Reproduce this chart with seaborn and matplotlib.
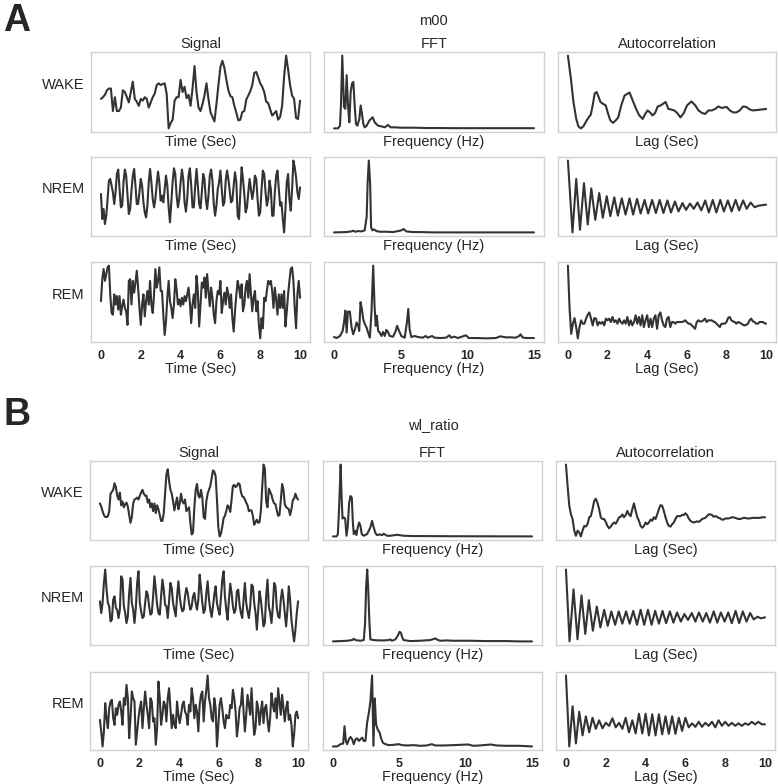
import numpy as np
import matplotlib
matplotlib.use("Agg")
import matplotlib.pyplot as plt
import seaborn as sns

# ---------------- data ----------------
# raw signals, 10 s windows (arbitrary units)
sig_a_wake = [100, 105, 112, 125, 130, 130, 65, 105, 65, 65,
              75, 125, 120, 105, 90, 120, 150, 100, 92, 80,
              100, 95, 105, 100, 75, 90, 105, 115, 140, 145,
              140, 143, 145, 115, 15, 30, 40, 95, 105, 105,
              155, 120, 135, 102, 112, 80, 130, 195, 120, 75,
              65, 85, 110, 145, 100, 62, 48, 35, 85, 140,
              192, 210, 190, 155, 125, 108, 105, 80, 60, 38,
              40, 62, 65, 98, 110, 122, 140, 175, 178, 162,
              145, 135, 120, 92, 88, 70, 52, 58, 65, 40,
              48, 80, 165, 225, 185, 140, 110, 100, 45, 42,
              95]
sig_a_nrem = [125, 50, 80, 35, 60, 110, 165, 170, 150, 130,
              95, 130, 185, 198, 140, 85, 90, 160, 198, 180,
              120, 65, 80, 135, 180, 200, 150, 95, 95, 130,
              170, 150, 100, 70, 55, 90, 160, 200, 160, 110,
              85, 110, 155, 192, 160, 105, 120, 100, 140, 180,
              150, 85, 40, 100, 160, 202, 185, 120, 85, 110,
              160, 198, 170, 100, 72, 110, 180, 202, 150, 85,
              85, 150, 200, 150, 95, 82, 130, 185, 170, 110,
              80, 120, 180, 198, 165, 95, 60, 90, 140, 160,
              195, 140, 90, 100, 165, 195, 170, 135, 100, 105,
              150, 190, 160, 60, 50, 125, 205, 170, 125, 70,
              85, 130, 170, 140, 110, 135, 180, 170, 110, 60,
              70, 140, 195, 185, 130, 90, 110, 165, 140, 60,
              60, 130, 180, 195, 140, 90, 100, 50, 10, 80,
              160, 185, 110, 75, 140, 225, 205, 175, 130, 110,
              145]
sig_a_rem = [120, 185, 215, 180, 200, 220, 225, 140, 85, 80,
             140, 110, 135, 95, 135, 80, 105, 125, 100, 90,
             50, 180, 185, 110, 180, 145, 175, 210, 160, 100,
             50, 110, 140, 75, 120, 150, 110, 180, 110, 85,
             140, 215, 160, 180, 220, 150, 150, 80, 20, 60,
             130, 180, 120, 100, 70, 110, 185, 155, 110, 125,
             105, 130, 110, 135, 120, 140, 160, 115, 55, 110,
             140, 100, 195, 150, 45, 110, 175, 160, 190, 130,
             200, 150, 105, 160, 130, 80, 55, 120, 150, 140,
             180, 85, 120, 145, 110, 160, 140, 100, 140, 70,
             30, 90, 140, 180, 160, 130, 170, 90, 110, 160,
             180, 130, 200, 140, 90, 130, 150, 90, 120, 50,
             10, 70, 40, 130, 120, 150, 180, 170, 180, 150,
             100, 160, 125, 80, 140, 100, 140, 100, 150, 45,
             90, 140, 180, 215, 220, 180, 100, 40, 140, 180,
             130]
sig_b_wake = [100, 92, 80, 70, 65, 65, 67, 80, 125, 130,
              135, 152, 142, 120, 110, 128, 95, 105, 90, 98,
              102, 92, 70, 50, 65, 100, 110, 112, 115, 110,
              120, 128, 135, 125, 120, 120, 102, 110, 90, 100,
              80, 100, 75, 95, 85, 70, 55, 55, 75, 125,
              175, 188, 158, 135, 125, 105, 82, 100, 115, 85,
              100, 125, 105, 100, 110, 80, 85, 90, 50, 20,
              25, 90, 135, 150, 120, 115, 135, 115, 65, 60,
              105, 125, 135, 145, 165, 185, 182, 170, 110, 40,
              15, 22, 40, 62, 68, 80, 95, 90, 78, 110,
              145, 148, 142, 145, 152, 150, 130, 118, 117, 110,
              102, 95, 80, 82, 82, 68, 45, 52, 58, 50,
              52, 80, 140, 200, 190, 105, 90, 138, 130, 122,
              108, 100, 98, 82, 68, 70, 108, 150, 135, 98,
              90, 88, 85, 70, 85, 108, 112, 125, 115, 110]
sig_b_nrem = [125, 90, 120, 180, 220, 160, 120, 110, 65, 70,
              130, 140, 105, 100, 75, 100, 200, 190, 110, 90,
              60, 80, 150, 195, 120, 100, 60, 105, 180, 215,
              120, 95, 75, 80, 120, 155, 145, 110, 85, 90,
              140, 200, 160, 115, 90, 85, 140, 190, 160, 115,
              110, 75, 125, 180, 165, 120, 100, 80, 140, 185,
              140, 110, 95, 100, 140, 165, 150, 120, 100, 110,
              140, 150, 120, 100, 130, 205, 165, 120, 90, 100,
              150, 185, 130, 100, 78, 110, 145, 170, 120, 100,
              85, 135, 190, 215, 140, 100, 70, 130, 178, 150,
              110, 90, 100, 155, 160, 115, 90, 75, 130, 180,
              120, 95, 75, 110, 175, 170, 120, 90, 40, 100,
              155, 130, 90, 50, 60, 140, 190, 110, 90, 60,
              110, 180, 170, 105, 80, 75, 130, 160, 130, 90,
              50, 100, 170, 130, 70, 35, 5, 40, 90, 125]
sig_b_rem = [85, 50, 5, 50, 135, 90, 60, 120, 140, 145,
             90, 70, 120, 100, 130, 140, 110, 70, 150, 130,
             190, 150, 30, 90, 170, 150, 140, 10, 50, 90,
             120, 140, 60, 120, 170, 130, 100, 60, 150, 140,
             80, 90, 10, 60, 200, 150, 70, 100, 140, 130,
             80, 150, 180, 120, 60, 100, 70, 60, 140, 100,
             75, 100, 130, 140, 110, 100, 70, 130, 110, 180,
             150, 90, 130, 110, 50, 130, 160, 170, 80, 140,
             175, 218, 150, 130, 90, 80, 150, 120, 5, 70,
             130, 150, 120, 80, 60, 100, 90, 90, 130, 120,
             175, 150, 110, 35, 70, 120, 130, 180, 110, 50,
             100, 160, 130, 100, 180, 100, 40, 60, 140, 120,
             70, 110, 140, 75, 120, 130, 85, 50, 90, 165,
             130, 110, 150, 90, 180, 140, 100, 160, 120, 80,
             120, 140, 85, 100, 70, 5, 40, 100, 110, 90]

# FFT magnitude spectra
fft_a_wake_f = [0.0, 0.3, 0.45, 0.52, 0.62, 0.75, 0.85, 0.95, 1.05, 1.15, 1.25, 1.35, 1.45, 1.55,
                1.65, 1.75, 1.9, 2.0, 2.1, 2.2, 2.3, 2.45, 2.65, 2.9, 3.05, 3.3, 3.55, 3.8, 4.05,
                4.25, 4.6, 5.0, 6.0, 7.0, 8.0, 9.0, 10.0, 11.0, 12.0, 13.0, 14.0, 15.0]
fft_a_wake_p = [0, 0, 8, 68, 216, 63, 58, 158, 68, 18, 108, 133, 138, 68,
                13, 8, 28, 68, 43, 13, 3, 8, 23, 33, 18, 8, 6, 3, 10,
                3, 3, 2, 2, 1, 1, 0.5, 0.5, 0.5, 0.5, 0.5, 0.5, 0.5]
fft_a_nrem_f = [0.0, 0.9, 1.3, 1.45, 1.6, 1.8, 2.05, 2.3, 2.45, 2.52, 2.61, 2.71, 2.78, 2.88,
                3.0, 3.18, 3.43, 3.93, 4.43, 5.05, 5.22, 5.42, 5.92, 6.42, 7.5, 10.0, 12.5, 15.0]
fft_a_nrem_p = [1, 2, 4, 6, 3, 5, 4, 7, 47, 147, 215, 147, 17, 7,
                10, 5, 3, 3, 2, 7, 11, 4, 2, 2, 1, 1, 1, 1]
fft_a_rem_f = [0.0, 0.2, 0.45, 0.65, 0.75, 0.85, 0.95, 1.04, 1.19, 1.32,
               1.44, 1.57, 1.69, 1.82, 1.89, 1.99, 2.09, 2.19, 2.31, 2.44,
               2.56, 2.69, 2.81, 2.94, 3.04, 3.13, 3.21, 3.31, 3.43, 3.56,
               3.68, 3.81, 3.93, 4.05, 4.18, 4.43, 4.63, 4.73, 4.88, 5.05,
               5.3, 5.47, 5.57, 5.67, 5.8, 6.04, 6.29, 6.67, 6.87, 7.04,
               7.36, 7.54, 8.03, 8.4, 8.66, 8.78, 9.03, 9.28, 9.9, 10.1,
               10.65, 11.4, 12.15, 12.46, 12.89, 13.26, 13.63, 13.88, 14.0, 14.13,
               14.38, 15.0]
fft_a_rem_p = [5, 2, 8, 23, 48, 83, 18, 80, 80, 33,
               13, 28, 48, 38, 23, 108, 88, 58, 43, 33,
               18, 3, 78, 216, 98, 38, 68, 23, 18, 8,
               20, 8, 26, 20, 8, 6, 23, 38, 23, 8,
               3, 48, 88, 28, 5, 8, 5, 3, 8, 3,
               8, 3, 2, 3, 10, 3, 6, 2, 10, 2,
               2, 1, 2, 7, 4, 4, 3, 8, 13, 4,
               2, 2]
fft_b_wake_f = [0.0, 0.27, 0.37, 0.47, 0.58, 0.65, 0.72, 0.82, 0.92, 1.02,
                1.12, 1.22, 1.32, 1.42, 1.5, 1.57, 1.67, 1.77, 1.87, 1.97,
                2.07, 2.17, 2.32, 2.57, 2.82, 2.95, 3.07, 3.2, 3.32, 3.52,
                3.7, 3.82, 4.07, 4.32, 4.7, 4.82, 5.32, 6.07, 6.57, 9.07, 15.0]
fft_b_wake_p = [0, 0, 7, 92, 217, 122, 54, 57, 54, 2,
                32, 102, 122, 117, 42, 7, 17, 4, 27, 42,
                32, 7, 2, 7, 27, 47, 27, 10, 4, 6,
                4, 8, 2, 2, 4, 5, 2, 1, 1, 0.5, 0]
fft_b_nrem_f = [0.0, 0.57, 1.07, 1.45, 1.57, 1.7, 2.07, 2.32, 2.42, 2.5,
                2.58, 2.65, 2.75, 2.82, 3.07, 3.45, 3.82, 4.2, 4.32, 4.45,
                4.7, 4.87, 5.02, 5.12, 5.22, 5.32, 5.82, 6.57, 7.32, 7.57,
                7.72, 7.82, 8.07, 8.57, 9.07, 10.32, 11.57, 13.07, 14.07, 15.0]
fft_b_nrem_p = [1, 2, 3, 5, 9, 5, 3, 5, 55, 165,
                217, 165, 55, 7, 5, 4, 4, 5, 7, 3,
                7, 17, 30, 27, 13, 5, 2, 3, 5, 8,
                10, 7, 3, 4, 3, 3, 2, 2, 1, 1]
fft_b_rem_f = [0.0, 0.32, 0.57, 0.77, 0.87, 0.97, 1.07, 1.2, 1.32, 1.45,
               1.57, 1.7, 1.82, 1.95, 2.07, 2.2, 2.32, 2.45, 2.57, 2.7,
               2.82, 2.95, 3.05, 3.15, 3.25, 3.37, 3.52, 3.65, 3.77, 3.95,
               4.2, 4.57, 4.95, 5.2, 5.57, 6.07, 6.57, 7.07, 7.45, 7.7,
               8.32, 9.07, 10.2, 10.57, 11.07, 11.9, 12.32, 13.07, 14.07, 15.0]
fft_b_rem_p = [1, 1, 8, 10, 63, 18, 8, 23, 30, 23,
               8, 23, 26, 18, 23, 28, 18, 18, 73, 103,
               138, 218, 3, 148, 68, 53, 43, 23, 12, 8,
               5, 6, 8, 5, 4, 5, 3, 4, 8, 4,
               4, 5, 7, 3, 4, 7, 4, 3, 3, 1]

# autocorrelation
acf_a_wake_lag = [0.0, 0.15, 0.28, 0.42, 0.53, 0.65, 0.78, 0.95, 1.08, 1.15,
                  1.25, 1.35, 1.45, 1.55, 1.64, 1.78, 1.91, 2.03, 2.14, 2.28,
                  2.41, 2.54, 2.69, 2.86, 3.11, 3.27, 3.44, 3.6, 3.77, 3.9,
                  4.02, 4.14, 4.27, 4.4, 4.53, 4.68, 4.93, 5.07, 5.2, 5.37,
                  5.51, 5.68, 5.85, 6.01, 6.23, 6.43, 6.59, 6.76, 6.93, 7.09,
                  7.26, 7.43, 7.59, 7.76, 8.01, 8.17, 8.34, 8.5, 8.67, 8.84,
                  9.0, 9.17, 9.34, 9.58, 10.0]
acf_a_wake = [1.0, 0.54, 0.07, -0.27, -0.42, -0.46, -0.42, -0.30, -0.22, -0.19,
              0.0, 0.24, 0.27, 0.17, 0.07, 0.03, 0.0, -0.17, -0.30, -0.35,
              -0.30, -0.24, 0.0, 0.20, 0.26, 0.10, -0.07, -0.20, -0.27, -0.17,
              -0.10, -0.14, -0.20, -0.15, -0.02, 0.0, 0.07, -0.07, -0.08, -0.10,
              -0.15, -0.24, -0.15, 0.0, 0.08, 0.0, -0.10, -0.15, -0.17, -0.10,
              -0.10, -0.07, -0.02, -0.05, -0.03, -0.10, -0.14, -0.14, -0.10, -0.02,
              -0.03, -0.08, -0.10, -0.09, -0.07]
acf_a_nrem_lag = [0.0, 0.23, 0.42, 0.61, 0.81, 1.0, 1.18, 1.38, 1.58, 1.76,
                  1.96, 2.14, 2.34, 2.52, 2.72, 2.91, 3.11, 3.29, 3.49, 3.67,
                  3.87, 4.05, 4.25, 4.44, 4.63, 4.82, 5.02, 5.2, 5.4, 5.58,
                  5.78, 5.96, 6.16, 6.35, 6.54, 6.73, 6.93, 7.11, 7.31, 7.49,
                  7.69, 7.87, 8.07, 8.26, 8.46, 8.64, 8.84, 9.02, 9.22, 9.42,
                  9.62, 10.0]
acf_a_nrem = [1.0, -0.37, 0.65, -0.32, 0.57, -0.22, 0.47, -0.13, 0.38, -0.09,
              0.32, -0.06, 0.30, -0.05, 0.28, -0.03, 0.28, -0.03, 0.27, -0.01,
              0.25, -0.01, 0.25, 0.0, 0.25, 0.0, 0.24, 0.01, 0.22, 0.03,
              0.19, 0.06, 0.18, 0.08, 0.20, 0.05, 0.24, 0.01, 0.25, 0.01,
              0.25, 0.03, 0.24, 0.03, 0.25, 0.05, 0.24, 0.08, 0.20, 0.11,
              0.14, 0.16]
acf_a_rem = [1.0, 0.24, -0.21, -0.03, 0.07, -0.09, -0.29, -0.09, 0.03, -0.03,
             -0.03, 0.06, 0.13, 0.17, 0.06, -0.06, 0.07, 0.06, -0.06, 0.0,
             -0.03, 0.0, -0.06, 0.06, 0.03, 0.06, 0.0, 0.09, 0.0, 0.03,
             -0.03, 0.06, 0.0, -0.03, 0.03, -0.03, 0.09, -0.06, 0.03, -0.06,
             0.0, 0.12, -0.03, 0.09, -0.06, 0.12, -0.09, 0.03, 0.12, -0.09,
             0.06, -0.09, 0.06, 0.12, -0.12, 0.12, 0.17, 0.03, -0.06, -0.09,
             0.06, 0.09, -0.09, 0.0, 0.0, -0.03, 0.0, 0.0, 0.0, 0.0,
             0.01, 0.03, 0.0, -0.03, -0.03, -0.06, -0.09, -0.12, 0.0, 0.03,
             0.01, 0.01, 0.03, 0.06, 0.0, 0.03, 0.03, 0.03, 0.01, 0.0,
             -0.03, -0.06, -0.09, -0.03, -0.03, -0.03, 0.0, 0.07, 0.09, 0.03,
             0.01, 0.0, -0.03, 0.0, -0.01, -0.03, -0.05, -0.06, -0.05, -0.03,
             0.03, 0.06, 0.01, 0.0, -0.03, -0.03, 0.0, 0.0, 0.0, -0.02,
             -0.03]
acf_b_wake = [1.0, 0.63, 0.29, 0.14, 0.06, -0.14, -0.23, -0.14, -0.17, -0.24,
              -0.14, -0.06, -0.07, -0.03, 0.09, 0.11, 0.23, 0.37, 0.41, 0.34,
              0.23, 0.09, 0.06, 0.06, 0.01, -0.06, -0.10, -0.07, -0.03, 0.0,
              -0.02, 0.03, 0.09, 0.10, 0.14, 0.09, 0.13, 0.20, 0.14, 0.11,
              0.23, 0.33, 0.20, 0.09, 0.03, -0.06, -0.09, -0.06, 0.0, -0.03,
              0.0, 0.05, 0.03, 0.09, 0.06, 0.14, 0.23, 0.30, 0.29, 0.20,
              0.09, 0.0, -0.06, -0.07, -0.03, 0.0, 0.06, 0.11, 0.11, 0.11,
              0.13, 0.13, 0.16, 0.13, 0.07, 0.03, 0.01, 0.0, 0.01, 0.02,
              0.01, 0.03, 0.06, 0.07, 0.08, 0.11, 0.14, 0.14, 0.13, 0.10,
              0.11, 0.10, 0.08, 0.07, 0.05, 0.05, 0.07, 0.07, 0.07, 0.08,
              0.09, 0.09, 0.08, 0.07, 0.06, 0.06, 0.07, 0.08, 0.08, 0.07,
              0.07, 0.07, 0.08, 0.08, 0.08, 0.08, 0.08, 0.08, 0.09, 0.09,
              0.09]
acf_b_nrem_lag = [0.0, 0.18, 0.38, 0.58, 0.78, 0.97, 1.15, 1.35, 1.55, 1.73,
                  1.92, 2.1, 2.28, 2.47, 2.65, 2.83, 3.02, 3.2, 3.38, 3.57,
                  3.75, 3.93, 4.12, 4.3, 4.48, 4.67, 4.85, 5.03, 5.22, 5.4,
                  5.58, 5.77, 5.95, 6.13, 6.32, 6.5, 6.68, 6.87, 7.05, 7.23,
                  7.42, 7.6, 7.78, 7.97, 8.15, 8.33, 8.52, 8.7, 8.88, 9.07,
                  9.25, 9.43, 9.62, 9.8, 10.0]
acf_b_nrem = [1.0, -0.34, 0.63, -0.30, 0.52, -0.20, 0.43, -0.14, 0.31, -0.08,
              0.25, -0.05, 0.22, -0.03, 0.22, -0.01, 0.22, -0.01, 0.23, -0.03,
              0.25, -0.03, 0.25, -0.03, 0.23, -0.01, 0.23, 0.0, 0.22, 0.01,
              0.20, 0.03, 0.17, 0.06, 0.19, 0.03, 0.20, 0.03, 0.19, 0.01,
              0.22, 0.01, 0.20, 0.03, 0.20, 0.0, 0.23, 0.0, 0.22, 0.03,
              0.19, 0.07, 0.12, 0.09, 0.11]
acf_b_rem = [1.0, -0.41, 0.39, -0.35, 0.28, -0.19, 0.19, -0.13, 0.16, -0.06,
             0.11, -0.05, 0.06, 0.0, 0.15, -0.03, 0.06, -0.06, 0.16, -0.13,
             0.11, -0.15, 0.24, -0.15, 0.24, -0.19, 0.23, -0.19, 0.23, -0.17,
             0.19, -0.16, 0.19, -0.16, 0.16, -0.10, 0.16, -0.03, 0.05, -0.02,
             0.08, -0.02, 0.06, 0.0, 0.08, -0.03, 0.11, 0.0, 0.08, 0.0,
             0.06, 0.0, 0.05, 0.0, 0.05, 0.02, 0.08, 0.03, 0.08, 0.03,
             0.03]

stages = ["WAKE", "NREM", "REM"]

panels = [
    ("A", "m00",
     [sig_a_wake, sig_a_nrem, sig_a_rem],
     [(fft_a_wake_f, fft_a_wake_p), (fft_a_nrem_f, fft_a_nrem_p), (fft_a_rem_f, fft_a_rem_p)],
     [(acf_a_wake_lag, acf_a_wake), (acf_a_nrem_lag, acf_a_nrem), (None, acf_a_rem)]),
    ("B", "wl_ratio",
     [sig_b_wake, sig_b_nrem, sig_b_rem],
     [(fft_b_wake_f, fft_b_wake_p), (fft_b_nrem_f, fft_b_nrem_p), (fft_b_rem_f, fft_b_rem_p)],
     [(None, acf_b_wake), (acf_b_nrem_lag, acf_b_nrem), (None, acf_b_rem)]),
]

# ---------------- layout (pixels) ----------------
W, H = 778, 784
col_px = {"A": [(91, 310), (324, 544), (558, 776)],
          "B": [(90, 308), (323, 542), (556, 775)]}
row_px = {"A": [(52, 132), (157, 236), (262, 342)],
          "B": [(461, 540), (566, 645), (672, 750)]}
letter_y = {"A": 3, "B": 397}
title_y = {"A": 21, "B": 425}

sns.set_style("white", {"axes.edgecolor": ".82"})
plt.rcParams['font.family'] = ['Liberation Sans', 'DejaVu Sans']

fig = plt.figure(figsize=(W / 100, H / 100), dpi=100)
line_kw = dict(color="#333333", linewidth=1.5)
col_titles = ["Signal", "FFT", "Autocorrelation"]
xlabels = ["Time (Sec)", "Frequency (Hz)", "Lag (Sec)"]
xticks = [[0, 2, 4, 6, 8, 10], [0, 5, 10, 15], [0, 2, 4, 6, 8, 10]]

for letter, title, sigs, ffts, acfs in panels:
    fig.text(3 / W, 1 - letter_y[letter] / H, letter, fontsize=27,
             fontweight="bold", ha="left", va="top")
    fig.text(433 / W, 1 - title_y[letter] / H, title, fontsize=10.5,
             ha="center", va="center")
    for r, stage in enumerate(stages):
        y0, y1 = row_px[letter][r]
        for c in range(3):
            x0, x1 = col_px[letter][c]
            ax = fig.add_axes([x0 / W, 1 - y1 / H, (x1 - x0) / W, (y1 - y0) / H])
            if c == 0:
                v = sigs[r]
                t = np.linspace(0, 10, len(v))
                sns.lineplot(x=t, y=v, ax=ax, **line_kw)
            elif c == 1:
                f, p = ffts[r]
                sns.lineplot(x=f, y=p, ax=ax, **line_kw)
            else:
                lag, ac = acfs[r]
                if lag is None:
                    lag = np.linspace(0, 10, len(ac))
                sns.lineplot(x=lag, y=ac, ax=ax, **line_kw)
            ax.set_yticks([])
            ax.set_ylabel("")
            ax.set_xticks(xticks[c])
            if r < 2:
                ax.tick_params(labelbottom=False)
                ax.set_xlabel(xlabels[c], fontsize=10.5, labelpad=2)
            else:
                ax.tick_params(labelsize=9, pad=2)
                for lb in ax.get_xticklabels():
                    lb.set_fontweight("bold")
                ax.set_xlabel(xlabels[c], fontsize=10.5, labelpad=0)
            if r == 0:
                ax.set_title(col_titles[c], fontsize=10.5, pad=3)
            if c == 0:
                ax.set_ylabel(stage, rotation=0, fontsize=10.5,
                              ha="right", va="center")
                ax.yaxis.set_label_coords(-0.028, 0.59)
            for s in ax.spines.values():
                s.set_linewidth(1.0)

fig.savefig("out.png", dpi=100)
